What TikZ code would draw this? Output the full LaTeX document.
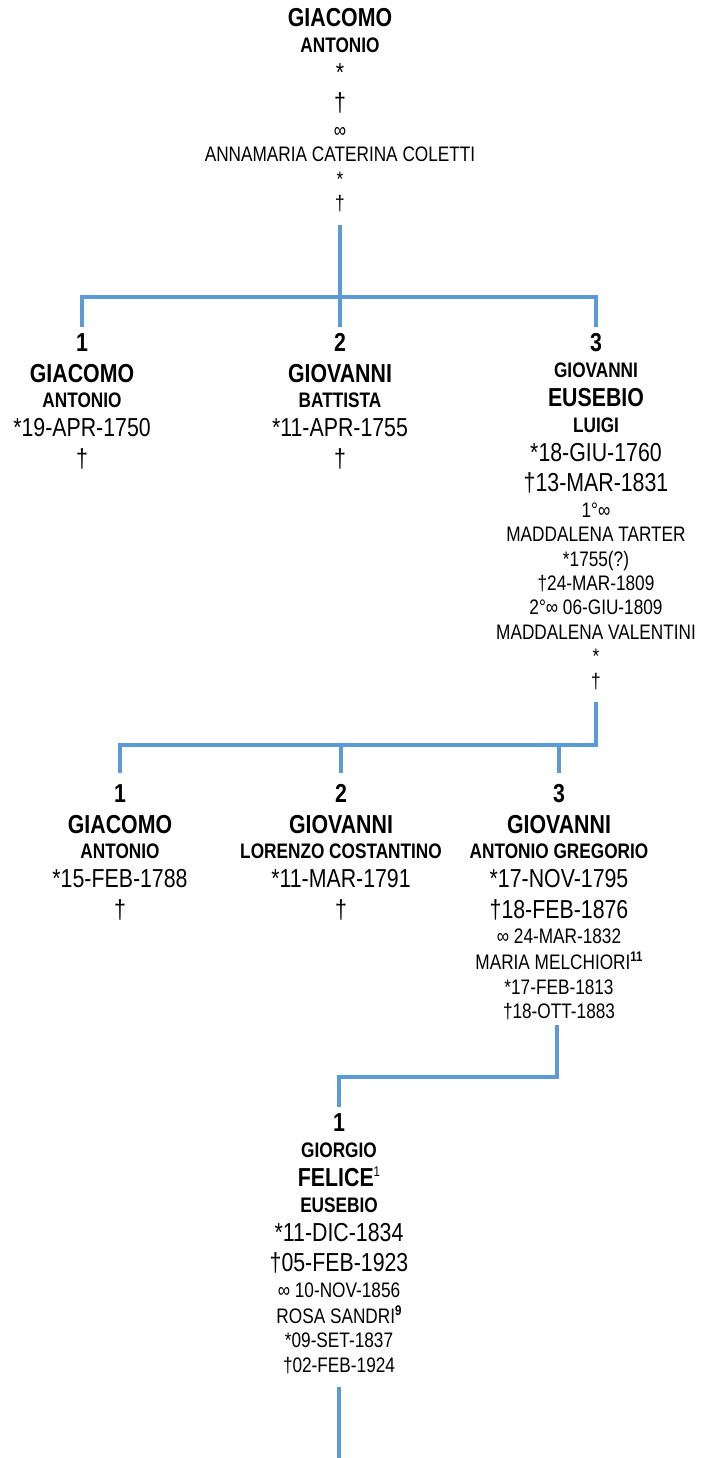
\documentclass[tikz,border=0pt]{standalone}
\usepackage{fontspec}
\setmainfont{Liberation Sans}[FakeStretch=0.82]
\definecolor{linkblue}{HTML}{5B9BD5}
\renewcommand\arraystretch{0}
\newcommand\wstrut{\rule[-.212em]{0pt}{1.165em}}
\newcommand\bigname[1]{\fontsize{26}{0}\selectfont\bfseries\wstrut#1}
\newcommand\midname[1]{\fontsize{21}{0}\selectfont\bfseries\wstrut#1}
\newcommand\bigdate[1]{\fontsize{26}{0}\selectfont\wstrut#1}
\newcommand\middate[1]{\fontsize{21}{0}\selectfont\wstrut#1}
\newcommand\noteref[1]{\raisebox{.38em}{\fontsize{14}{0}\selectfont\bfseries#1}}
\newcommand\person[1]{\begin{tabular}{@{}c@{}}#1\end{tabular}}

\begin{document}
\begin{tikzpicture}[x=1pt, y=-1pt,
    every node/.style={inner sep=0pt, outer sep=0pt, anchor=north},
    branch/.style={draw=linkblue, line width=3.7pt}]
        \useasboundingbox (0,0) rectangle (702,1458);

        % Parents
        \node (p0) at (340,2) {\person{\bigname{GIACOMO}\\ \midname{ANTONIO}\\ \bigdate{*}\\ \bigdate{†}\\
            \middate{∞}\\ \middate{ANNAMARIA CATERINA COLETTI}\\ \middate{*}\\ \middate{†}}};

        % First generation
        \node (c11) at (82,327) {\person{\bigname{1}\\ \bigname{GIACOMO}\\ \midname{ANTONIO}\\ \bigdate{*19-APR-1750}\\ \bigdate{†}}};
        \node (c12) at (340,327) {\person{\bigname{2}\\ \bigname{GIOVANNI}\\ \midname{BATTISTA}\\ \bigdate{*11-APR-1755}\\ \bigdate{†}}};
        \node (c13) at (596,327) {\person{\bigname{3}\\ \midname{GIOVANNI}\\ \bigname{EUSEBIO}\\ \midname{LUIGI}\\
            \bigdate{*18-GIU-1760}\\ \bigdate{†13-MAR-1831}\\ \middate{1°∞}\\ \middate{MADDALENA TARTER}\\
            \middate{*1755(?)}\\ \middate{†24-MAR-1809}\\ \middate{2°∞ 06-GIU-1809}\\
            \middate{MADDALENA VALENTINI}\\ \middate{*}\\ \middate{†}}};

        % Second generation
        \node (c21) at (120,778) {\person{\bigname{1}\\ \bigname{GIACOMO}\\ \midname{ANTONIO}\\ \bigdate{*15-FEB-1788}\\ \bigdate{†}}};
        \node (c22) at (341,778) {\person{\bigname{2}\\ \bigname{GIOVANNI}\\ \midname{LORENZO COSTANTINO}\\ \bigdate{*11-MAR-1791}\\ \bigdate{†}}};
        \node (c23) at (559,778) {\person{\bigname{3}\\ \bigname{GIOVANNI}\\ \midname{ANTONIO GREGORIO}\\ \bigdate{*17-NOV-1795}\\
            \bigdate{†18-FEB-1876}\\ \middate{∞ 24-MAR-1832}\\[6pt] \middate{MARIA MELCHIORI\noteref{11}}\\[1pt]
            \middate{*17-FEB-1813}\\ \middate{†18-OTT-1883}}};

        % Third generation
        \node (c31) at (339,1107) {\person{\bigname{1}\\ \midname{GIORGIO}\\ \bigname{FELICE\noteref{\mdseries 1}}\\ \midname{EUSEBIO}\\
            \bigdate{*11-DIC-1834}\\ \bigdate{†05-FEB-1923}\\ \middate{∞ 10-NOV-1856}\\[6pt]
            \middate{ROSA SANDRI\noteref{9}}\\[1pt] \middate{*09-SET-1837}\\ \middate{†02-FEB-1924}}};

        % Junctions
        \coordinate (j1) at (340,297);
        \coordinate (j2) at (596,745);
        \coordinate (j3) at (557,1077);
        \coordinate (tail) at (339,1458);

        % Branches
        \draw[branch, shorten <=10pt] (p0.south) -- (j1);
        \draw[branch] (c11.north) -- (c11.north |- j1) -- (c13.north |- j1) -- (c13.north);
        \draw[branch] (j1) -- (c12.north);

        \draw[branch, shorten <=9pt, shorten >=5pt] (c13.south) -- (c13.south |- j2) -- (c21.north |- j2) -- (c21.north);
        \draw[branch, shorten >=5pt] (c22.north |- j2) -- (c22.north);
        \draw[branch, shorten >=5pt] (c23.north |- j2) -- (c23.north);

        \draw[branch, shorten <=2pt] (c23.south -| j3) -- (j3) -- (c31.north |- j3) -- (c31.north);

        \draw[branch, shorten <=10pt] (c31.south) -- (tail);

    \end{tikzpicture}
\end{document}
